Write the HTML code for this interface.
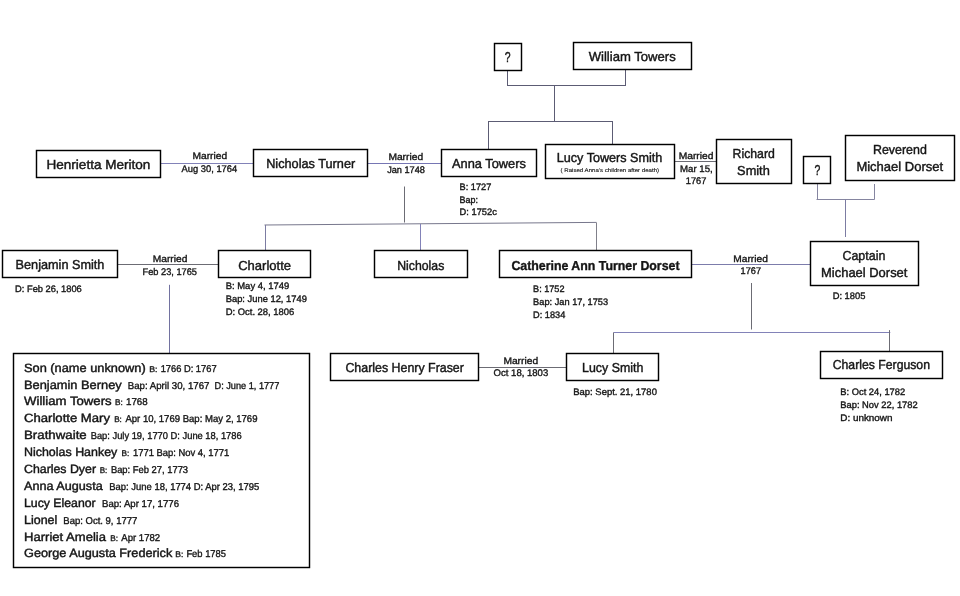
<!DOCTYPE html>
<html><head><meta charset="utf-8"><title>Family tree</title>
<style>
html,body{margin:0;padding:0;background:#fff}
body{width:960px;height:596px;overflow:hidden}
svg{display:block}
text{font-family:"Liberation Sans",sans-serif;fill:#151515;stroke:#151515;stroke-width:.36;text-rendering:geometricPrecision}
.b{fill:#fff;stroke:#000;stroke-width:1.45}
.l{stroke-width:1;fill:none}
</style></head><body>
<svg width="960" height="596" viewBox="0 0 960 596">
<rect width="960" height="596" fill="#fff"/>
<line class="l" stroke="#5c5c74" x1="507.5" y1="70" x2="507.5" y2="85.5"/>
<line class="l" stroke="#5c5c74" x1="507" y1="85.5" x2="625.5" y2="85.5"/>
<line class="l" stroke="#5c5c74" x1="625.5" y1="70" x2="625.5" y2="86"/>
<line class="l" stroke="#5c5c74" x1="554.5" y1="85.5" x2="554.5" y2="121.5"/>
<line class="l" stroke="#5c5c74" x1="488" y1="121.5" x2="613" y2="121.5"/>
<line class="l" stroke="#5c5c74" x1="488.5" y1="121.5" x2="488.5" y2="149"/>
<line class="l" stroke="#5c5c74" x1="612.5" y1="121.5" x2="612.5" y2="144"/>
<line class="l" stroke="#8282b8" x1="160.5" y1="163.5" x2="253" y2="163.5"/>
<line class="l" stroke="#7676b4" x1="367.5" y1="163.5" x2="441" y2="163.5"/>
<line class="l" stroke="#6c6c74" x1="674.5" y1="161.5" x2="716.5" y2="161.5"/>
<line class="l" stroke="#6c6c74" x1="404.5" y1="186.5" x2="404.5" y2="222.5"/>
<line class="l" stroke="#77778c" x1="264.5" y1="225" x2="596.5" y2="222.4"/>
<line class="l" stroke="#7c7ca2" x1="265.5" y1="225" x2="265.5" y2="250.6"/>
<line class="l" stroke="#8282b8" x1="420.5" y1="224" x2="420.5" y2="250.3"/>
<line class="l" stroke="#80808a" x1="596.5" y1="222.6" x2="596.5" y2="250.7"/>
<line class="l" stroke="#8585a0" x1="817.5" y1="183.3" x2="817.5" y2="199.5"/>
<line class="l" stroke="#8585a0" x1="816.5" y1="199.5" x2="874.5" y2="199.5"/>
<line class="l" stroke="#8585a0" x1="874.5" y1="184" x2="874.5" y2="199.5"/>
<line class="l" stroke="#7c7ca2" x1="845.5" y1="199.5" x2="845.5" y2="237"/>
<line class="l" stroke="#6c6c74" x1="117.5" y1="264.5" x2="218" y2="264.5"/>
<line class="l" stroke="#7c7cab" x1="691.3" y1="264.5" x2="810" y2="264.5"/>
<line class="l" stroke="#7272a0" x1="169.5" y1="284.8" x2="169.5" y2="353"/>
<line class="l" stroke="#6c6c74" x1="751.5" y1="283" x2="751.5" y2="329.5"/>
<line class="l" stroke="#8282b8" x1="613.5" y1="332.5" x2="890.3" y2="332.5"/>
<line class="l" stroke="#6c6c74" x1="613.5" y1="332.5" x2="613.5" y2="353.8"/>
<line class="l" stroke="#6c6c74" x1="889.5" y1="330.1" x2="889.5" y2="351.3"/>
<line class="l" stroke="#6c6c74" x1="478.5" y1="367.5" x2="566.3" y2="367.5"/>
<rect class="b" x="494.5" y="43.5" width="27" height="27"/>
<rect class="b" x="573.5" y="42.5" width="118" height="27"/>
<rect class="b" x="36.5" y="150.5" width="124" height="27"/>
<rect class="b" x="253.5" y="149.5" width="114" height="27"/>
<rect class="b" x="441.5" y="149.5" width="95" height="27"/>
<rect class="b" x="545.5" y="144.5" width="129" height="34"/>
<rect class="b" x="716.5" y="139.5" width="75" height="44"/>
<rect class="b" x="803.5" y="156.5" width="27" height="27"/>
<rect class="b" x="845.5" y="135.5" width="109" height="45"/>
<rect class="b" x="2.5" y="250.5" width="115" height="27"/>
<rect class="b" x="218.5" y="250.5" width="92" height="27"/>
<rect class="b" x="374.5" y="250.5" width="93" height="27"/>
<rect class="b" x="499.5" y="250.5" width="192" height="27"/>
<rect class="b" x="810.5" y="241.5" width="108" height="44"/>
<rect class="b" x="13.5" y="353.5" width="296" height="214"/>
<rect class="b" x="330.5" y="353.5" width="148" height="27"/>
<rect class="b" x="566.5" y="353.5" width="92" height="27"/>
<rect class="b" x="820.5" y="351.5" width="122" height="27"/>
<defs><filter id="f" filterUnits="userSpaceOnUse" x="0" y="0" width="960" height="596"><feOffset dx="0" dy="0"/></filter></defs>
<g filter="url(#f)">
<text x="504.8" y="61.5" font-size="14.3" style="stroke-width:.42" textLength="5.8" lengthAdjust="spacingAndGlyphs">?</text>
<text x="588.7" y="60.7" font-size="13" style="stroke-width:.42" textLength="87" lengthAdjust="spacingAndGlyphs">William Towers</text>
<text x="46.5" y="169" font-size="13" style="stroke-width:.42" textLength="103.9" lengthAdjust="spacingAndGlyphs">Henrietta Meriton</text>
<text x="192.5" y="158.9" font-size="9.6" textLength="34.7" lengthAdjust="spacingAndGlyphs">Married</text>
<text x="181.6" y="171.5" font-size="9.6" textLength="55.6" lengthAdjust="spacingAndGlyphs">Aug 30, 1764</text>
<text x="266.2" y="167.7" font-size="13" style="stroke-width:.42" textLength="89" lengthAdjust="spacingAndGlyphs">Nicholas Turner</text>
<text x="388.4" y="160.2" font-size="9.6" textLength="34.7" lengthAdjust="spacingAndGlyphs">Married</text>
<text x="387.2" y="172.8" font-size="9.6" textLength="37.7" lengthAdjust="spacingAndGlyphs">Jan 1748</text>
<text x="452" y="167.7" font-size="13" style="stroke-width:.42" textLength="73.8" lengthAdjust="spacingAndGlyphs">Anna Towers</text>
<text x="459.6" y="189.6" font-size="9.4" textLength="31.7" lengthAdjust="spacingAndGlyphs">B: 1727</text>
<text x="459.6" y="202.5" font-size="9.4" textLength="18.4" lengthAdjust="spacingAndGlyphs">Bap:</text>
<text x="459.6" y="215" font-size="9.4" textLength="37.3" lengthAdjust="spacingAndGlyphs">D: 1752c</text>
<text x="556.7" y="162.2" font-size="13" style="stroke-width:.42" textLength="105.7" lengthAdjust="spacingAndGlyphs">Lucy Towers Smith</text>
<text x="560.5" y="172.3" font-size="5.5" style="stroke-width:.12" textLength="98.6" lengthAdjust="spacingAndGlyphs">( Raised Anna’s children after death)</text>
<text x="678.7" y="158.9" font-size="9.6" textLength="34.8" lengthAdjust="spacingAndGlyphs">Married</text>
<text x="680" y="172" font-size="9.6" textLength="32.7" lengthAdjust="spacingAndGlyphs">Mar 15,</text>
<text x="685.8" y="184.3" font-size="9.6" textLength="20.6" lengthAdjust="spacingAndGlyphs">1767</text>
<text x="732.6" y="157.7" font-size="13" style="stroke-width:.42" textLength="42.2" lengthAdjust="spacingAndGlyphs">Richard</text>
<text x="737.1" y="174.5" font-size="13" style="stroke-width:.42" textLength="32.7" lengthAdjust="spacingAndGlyphs">Smith</text>
<text x="814.6" y="174.6" font-size="14.3" style="stroke-width:.42" textLength="5.8" lengthAdjust="spacingAndGlyphs">?</text>
<text x="873" y="154.4" font-size="13" style="stroke-width:.42" textLength="53.8" lengthAdjust="spacingAndGlyphs">Reverend</text>
<text x="856.4" y="171" font-size="13" style="stroke-width:.42" textLength="86.7" lengthAdjust="spacingAndGlyphs">Michael Dorset</text>
<text x="15.6" y="269.1" font-size="13" style="stroke-width:.42" textLength="88.8" lengthAdjust="spacingAndGlyphs">Benjamin Smith</text>
<text x="15.1" y="292.1" font-size="9.4" textLength="66.7" lengthAdjust="spacingAndGlyphs">D: Feb 26, 1806</text>
<text x="152.7" y="262.1" font-size="9.6" textLength="34.7" lengthAdjust="spacingAndGlyphs">Married</text>
<text x="142.6" y="275.2" font-size="9.6" textLength="54.4" lengthAdjust="spacingAndGlyphs">Feb 23, 1765</text>
<text x="238.2" y="269.7" font-size="13" style="stroke-width:.42" textLength="52.8" lengthAdjust="spacingAndGlyphs">Charlotte</text>
<text x="225.7" y="289" font-size="9.4" textLength="63.6" lengthAdjust="spacingAndGlyphs">B: May 4, 1749</text>
<text x="225.7" y="301.6" font-size="9.4" textLength="81.2" lengthAdjust="spacingAndGlyphs">Bap: June 12, 1749</text>
<text x="225.7" y="314.5" font-size="9.4" textLength="68.6" lengthAdjust="spacingAndGlyphs">D: Oct. 28, 1806</text>
<text x="397.2" y="269.6" font-size="13" style="stroke-width:.42" textLength="47.1" lengthAdjust="spacingAndGlyphs">Nicholas</text>
<text x="511.4" y="269.6" font-size="13" font-weight="700" textLength="168.1" lengthAdjust="spacingAndGlyphs">Catherine Ann Turner Dorset</text>
<text x="533.1" y="292.1" font-size="9.4" textLength="31.4" lengthAdjust="spacingAndGlyphs">B: 1752</text>
<text x="533.1" y="305.2" font-size="9.4" textLength="75" lengthAdjust="spacingAndGlyphs">Bap: Jan 17, 1753</text>
<text x="533.1" y="317.8" font-size="9.4" textLength="32.2" lengthAdjust="spacingAndGlyphs">D: 1834</text>
<text x="733.3" y="261.6" font-size="9.6" textLength="34.5" lengthAdjust="spacingAndGlyphs">Married</text>
<text x="740.6" y="273.9" font-size="9.6" textLength="20.4" lengthAdjust="spacingAndGlyphs">1767</text>
<text x="842.5" y="260" font-size="13" style="stroke-width:.42" textLength="42.8" lengthAdjust="spacingAndGlyphs">Captain</text>
<text x="821.1" y="276.7" font-size="13" style="stroke-width:.42" textLength="86.3" lengthAdjust="spacingAndGlyphs">Michael Dorset</text>
<text x="832.7" y="298.9" font-size="9.4" textLength="32.7" lengthAdjust="spacingAndGlyphs">D: 1805</text>
<text x="345.4" y="372" font-size="13" style="stroke-width:.42" textLength="118.5" lengthAdjust="spacingAndGlyphs">Charles Henry Fraser</text>
<text x="503.4" y="363.8" font-size="9.6" textLength="34.7" lengthAdjust="spacingAndGlyphs">Married</text>
<text x="493.6" y="376.4" font-size="9.6" textLength="54.6" lengthAdjust="spacingAndGlyphs">Oct 18, 1803</text>
<text x="582.1" y="371.9" font-size="13" style="stroke-width:.42" textLength="61.2" lengthAdjust="spacingAndGlyphs">Lucy Smith</text>
<text x="573.3" y="395" font-size="9.4" textLength="83.6" lengthAdjust="spacingAndGlyphs">Bap: Sept. 21, 1780</text>
<text x="832.7" y="369.4" font-size="13" style="stroke-width:.42" textLength="97.3" lengthAdjust="spacingAndGlyphs">Charles Ferguson</text>
<text x="840.3" y="395.3" font-size="9.4" textLength="64.9" lengthAdjust="spacingAndGlyphs">B: Oct 24, 1782</text>
<text x="840.3" y="407.9" font-size="9.4" textLength="77.4" lengthAdjust="spacingAndGlyphs">Bap: Nov 22, 1782</text>
<text x="840.3" y="420.5" font-size="9.4" textLength="52.2" lengthAdjust="spacingAndGlyphs">D: unknown</text>
<text x="24" y="371.7" font-size="12" style="stroke-width:.42" textLength="121.7" lengthAdjust="spacingAndGlyphs">Son (name unknown)</text>
<text x="149.2" y="371.7" font-size="8.2" textLength="8.3" lengthAdjust="spacingAndGlyphs">B:</text>
<text x="160.7" y="371.7" font-size="9.9" textLength="55.9" lengthAdjust="spacingAndGlyphs">1766 D: 1767</text>
<text x="24" y="388.7" font-size="12" style="stroke-width:.42" textLength="97.7" lengthAdjust="spacingAndGlyphs">Benjamin Berney</text>
<text x="127.7" y="388.7" font-size="9.9" textLength="81.8" lengthAdjust="spacingAndGlyphs">Bap: April 30, 1767</text>
<text x="214.5" y="388.7" font-size="9.9" textLength="64.8" lengthAdjust="spacingAndGlyphs">D: June 1, 1777</text>
<text x="24" y="405.3" font-size="12" style="stroke-width:.42" textLength="87.7" lengthAdjust="spacingAndGlyphs">William Towers</text>
<text x="115" y="405.3" font-size="8.2" textLength="7.8" lengthAdjust="spacingAndGlyphs">B:</text>
<text x="126" y="405.3" font-size="9.9" textLength="21.7" lengthAdjust="spacingAndGlyphs">1768</text>
<text x="24" y="422" font-size="12" style="stroke-width:.42" textLength="86" lengthAdjust="spacingAndGlyphs">Charlotte Mary</text>
<text x="114.2" y="422" font-size="8.2" textLength="7.7" lengthAdjust="spacingAndGlyphs">B:</text>
<text x="125.4" y="422" font-size="9.9" textLength="132.1" lengthAdjust="spacingAndGlyphs">Apr 10, 1769 Bap: May 2, 1769</text>
<text x="24" y="438.7" font-size="12" style="stroke-width:.42" textLength="62.7" lengthAdjust="spacingAndGlyphs">Brathwaite</text>
<text x="90.7" y="438.7" font-size="9.9" textLength="151" lengthAdjust="spacingAndGlyphs">Bap: July 19, 1770 D: June 18, 1786</text>
<text x="24" y="456" font-size="12" style="stroke-width:.42" textLength="93.3" lengthAdjust="spacingAndGlyphs">Nicholas Hankey</text>
<text x="121.5" y="456" font-size="8.2" textLength="7.8" lengthAdjust="spacingAndGlyphs">B:</text>
<text x="133" y="456" font-size="9.9" textLength="96.2" lengthAdjust="spacingAndGlyphs">1771 Bap: Nov 4, 1771</text>
<text x="24" y="472.7" font-size="12" style="stroke-width:.42" textLength="72" lengthAdjust="spacingAndGlyphs">Charles Dyer</text>
<text x="99.7" y="472.7" font-size="8.2" textLength="7.6" lengthAdjust="spacingAndGlyphs">B:</text>
<text x="110.9" y="472.7" font-size="9.9" textLength="77.2" lengthAdjust="spacingAndGlyphs">Bap: Feb 27, 1773</text>
<text x="24" y="489.7" font-size="12" style="stroke-width:.42" textLength="78.7" lengthAdjust="spacingAndGlyphs">Anna Augusta</text>
<text x="109.3" y="489.7" font-size="9.9" textLength="150" lengthAdjust="spacingAndGlyphs">Bap: June 18, 1774 D: Apr 23, 1795</text>
<text x="24" y="506.7" font-size="12" style="stroke-width:.42" textLength="71.7" lengthAdjust="spacingAndGlyphs">Lucy Eleanor</text>
<text x="102" y="506.7" font-size="9.9" textLength="77" lengthAdjust="spacingAndGlyphs">Bap: Apr 17, 1776</text>
<text x="24" y="523.7" font-size="12" style="stroke-width:.42" textLength="33.3" lengthAdjust="spacingAndGlyphs">Lionel</text>
<text x="63.3" y="523.7" font-size="9.9" textLength="74" lengthAdjust="spacingAndGlyphs">Bap: Oct. 9, 1777</text>
<text x="24" y="540.7" font-size="12" style="stroke-width:.42" textLength="82" lengthAdjust="spacingAndGlyphs">Harriet Amelia</text>
<text x="110.3" y="540.7" font-size="8.2" textLength="7.8" lengthAdjust="spacingAndGlyphs">B:</text>
<text x="121.3" y="540.7" font-size="9.9" textLength="38.9" lengthAdjust="spacingAndGlyphs">Apr 1782</text>
<text x="24" y="557.3" font-size="12" style="stroke-width:.42" textLength="148.3" lengthAdjust="spacingAndGlyphs">George Augusta Frederick</text>
<text x="175.2" y="557.3" font-size="8.2" textLength="8.1" lengthAdjust="spacingAndGlyphs">B:</text>
<text x="186.4" y="557.3" font-size="9.9" textLength="39.6" lengthAdjust="spacingAndGlyphs">Feb 1785</text>
</g>
</svg>
</body></html>
